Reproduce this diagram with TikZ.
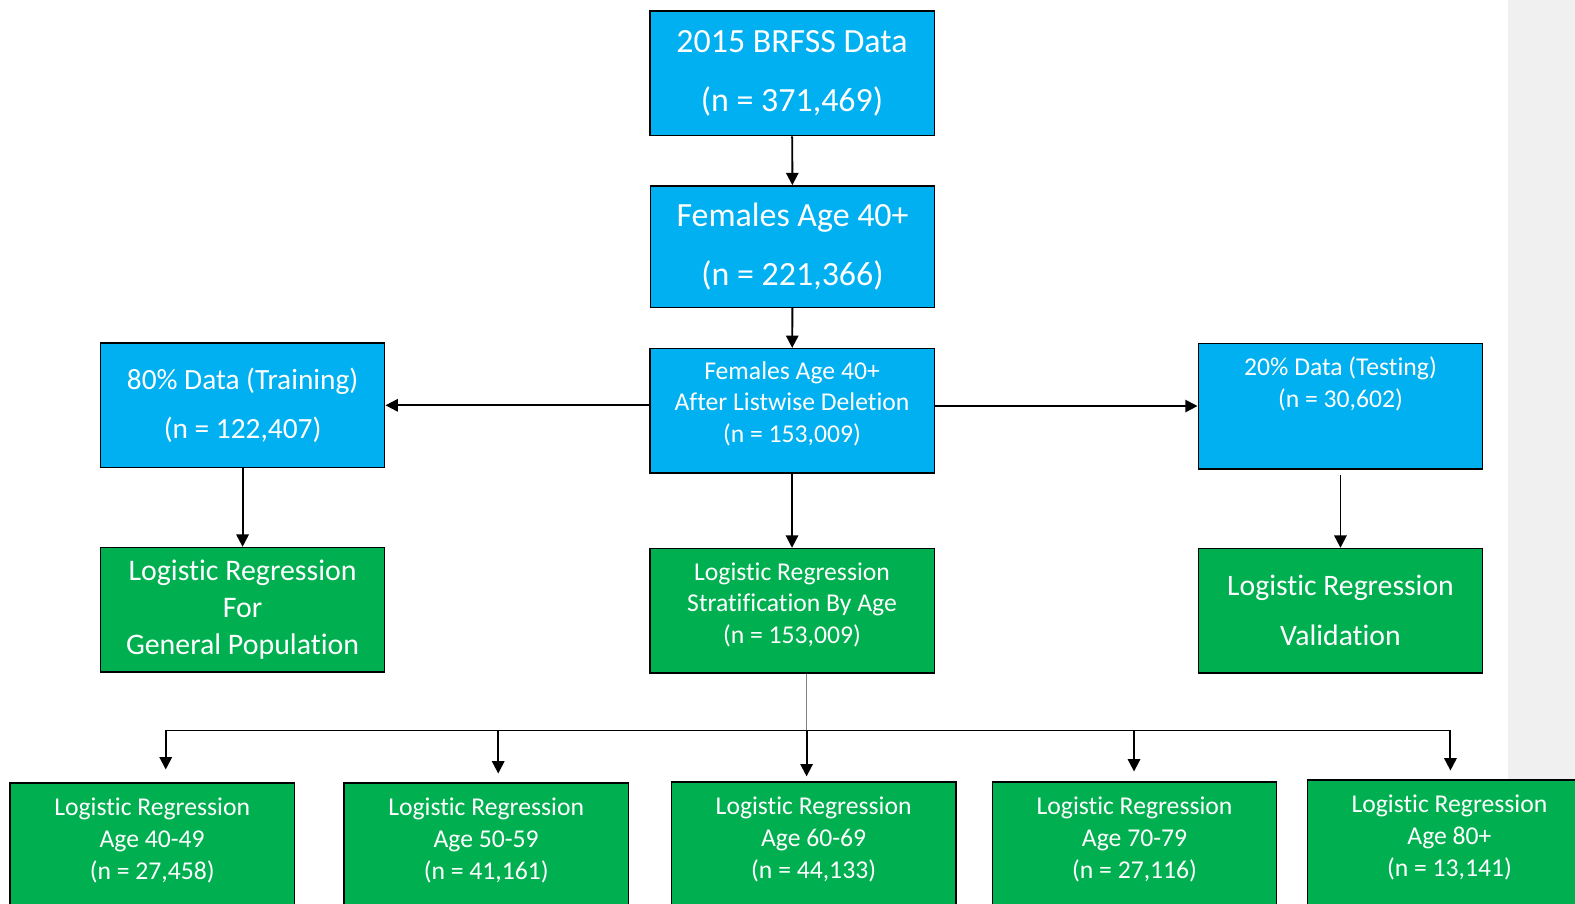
\documentclass[tikz,border=0pt]{standalone}
\usepackage{fontspec}
\setmainfont{Carlito}[Ligatures=NoCommon]
\usetikzlibrary{arrows.meta}
\definecolor{boxblue}{HTML}{00B0F0}
\definecolor{boxgreen}{HTML}{00B050}
\definecolor{sidegray}{HTML}{F0F0F0}
\tikzset{
  box/.style={draw=black,line width=0.8pt,text=white,align=center,inner sep=0pt,
    minimum width=5.69cm,minimum height=2.49cm},
  bluebox/.style={box,fill=boxblue},
  greenbox/.style={box,fill=boxgreen},
  hugetext/.style={font=\fontsize{19.3}{33.7}\selectfont},
  bigtext/.style={font=\fontsize{16.7}{28}\selectfont},
  smalltext/.style={font=\fontsize{14.6}{18}\selectfont},
  bottombox/.style={greenbox,font=\fontsize{14.6}{18.2}\selectfont,anchor=north,
    minimum height=0pt,text height=54.6pt,text depth=36pt},
  arr/.style={-{Triangle[length=7pt,width=7pt]},line width=1.1pt}
}
\begin{document}
\begin{tikzpicture}[x=0.02009cm,y=-0.02009cm]
\useasboundingbox (0,0) rectangle (1568,899);
\fill[sidegray] (1501,0) rectangle (1568,899);
% upper part
\node[bluebox,hugetext] (brfss) at (788.5,73) {2015 BRFSS Data\\(n = 371,469)};
\node[bluebox,hugetext,minimum height=2.43cm] (fem) at (789,245.5) {Females Age 40+\\(n = 221,366)};
\node[bluebox,smalltext,text depth=10pt] (list) at (788.5,409) {Females Age 40+\\After Listwise Deletion\\(n = 153,009)};
\node[bluebox,bigtext] (train) at (241.5,403.5) {80\% Data (Training)\\(n = 122,407)};
\node[bluebox,smalltext,anchor=north,minimum height=0pt,text height=36.6pt,text depth=34.9pt] (test) at (1334.5,341) {20\% Data (Testing)\\(n = 30,602)};
\node[greenbox,font=\fontsize{17}{21.1}\selectfont] (gen) at (241.5,607) {Logistic Regression\\For\\General Population};
\node[greenbox,smalltext,text depth=8.7pt] (strat) at (788.5,608) {Logistic Regression\\Stratification By Age\\(n = 153,009)};
\node[greenbox,font=\fontsize{16.9}{28.6}\selectfont] (valid) at (1334.5,608) {Logistic Regression\\Validation};
% age groups
\node[bottombox] (age1) at (151.5,779) {Logistic Regression\\Age 40-49\\(n = 27,458)};
\node[bottombox] (age2) at (484,779) {Logistic Regression\\Age 50-59\\(n = 41,161)};
\node[bottombox] (age3) at (810,778) {Logistic Regression\\Age 60-69\\(n = 44,133)};
\node[bottombox] (age4) at (1129.5,778) {Logistic Regression\\Age 70-79\\(n = 27,116)};
\node[bottombox] (age5) at (1443,776) {Logistic Regression\\Age 80+\\(n = 13,141)};
\path[arr]
(brfss) edge (fem)
(fem) edge (list)
(list.west |- train) edge (train)
(list.east |- test) edge (test)
(train) edge (gen)
(list) edge (strat)
(test) edge[shorten <=3pt] (valid);
% branch to the age groups
\coordinate (split) at (803,727);
\coordinate (j1) at (165,727);
\coordinate (j2) at (496,727);
\coordinate (j4) at (1129,727);
\coordinate (j5) at (1444,727);
\draw[gray,line width=1pt] (strat.south -| split) -- (split);
\draw[line width=0.7pt] (j1) -- (j5);
\draw[arr,shorten >=7.4pt] (j1) -- (j1 |- age1.north);
\draw[arr,shorten >=5.1pt] (j2) -- (j2 |- age2.north);
\draw[arr,shorten >=2.9pt] (split) -- (split |- age3.north);
\draw[arr,shorten >=5.7pt] (j4) -- (j4 |- age4.north);
\draw[arr,shorten >=5.1pt] (j5) -- (j5 |- age5.north);
\end{tikzpicture}
\end{document}
